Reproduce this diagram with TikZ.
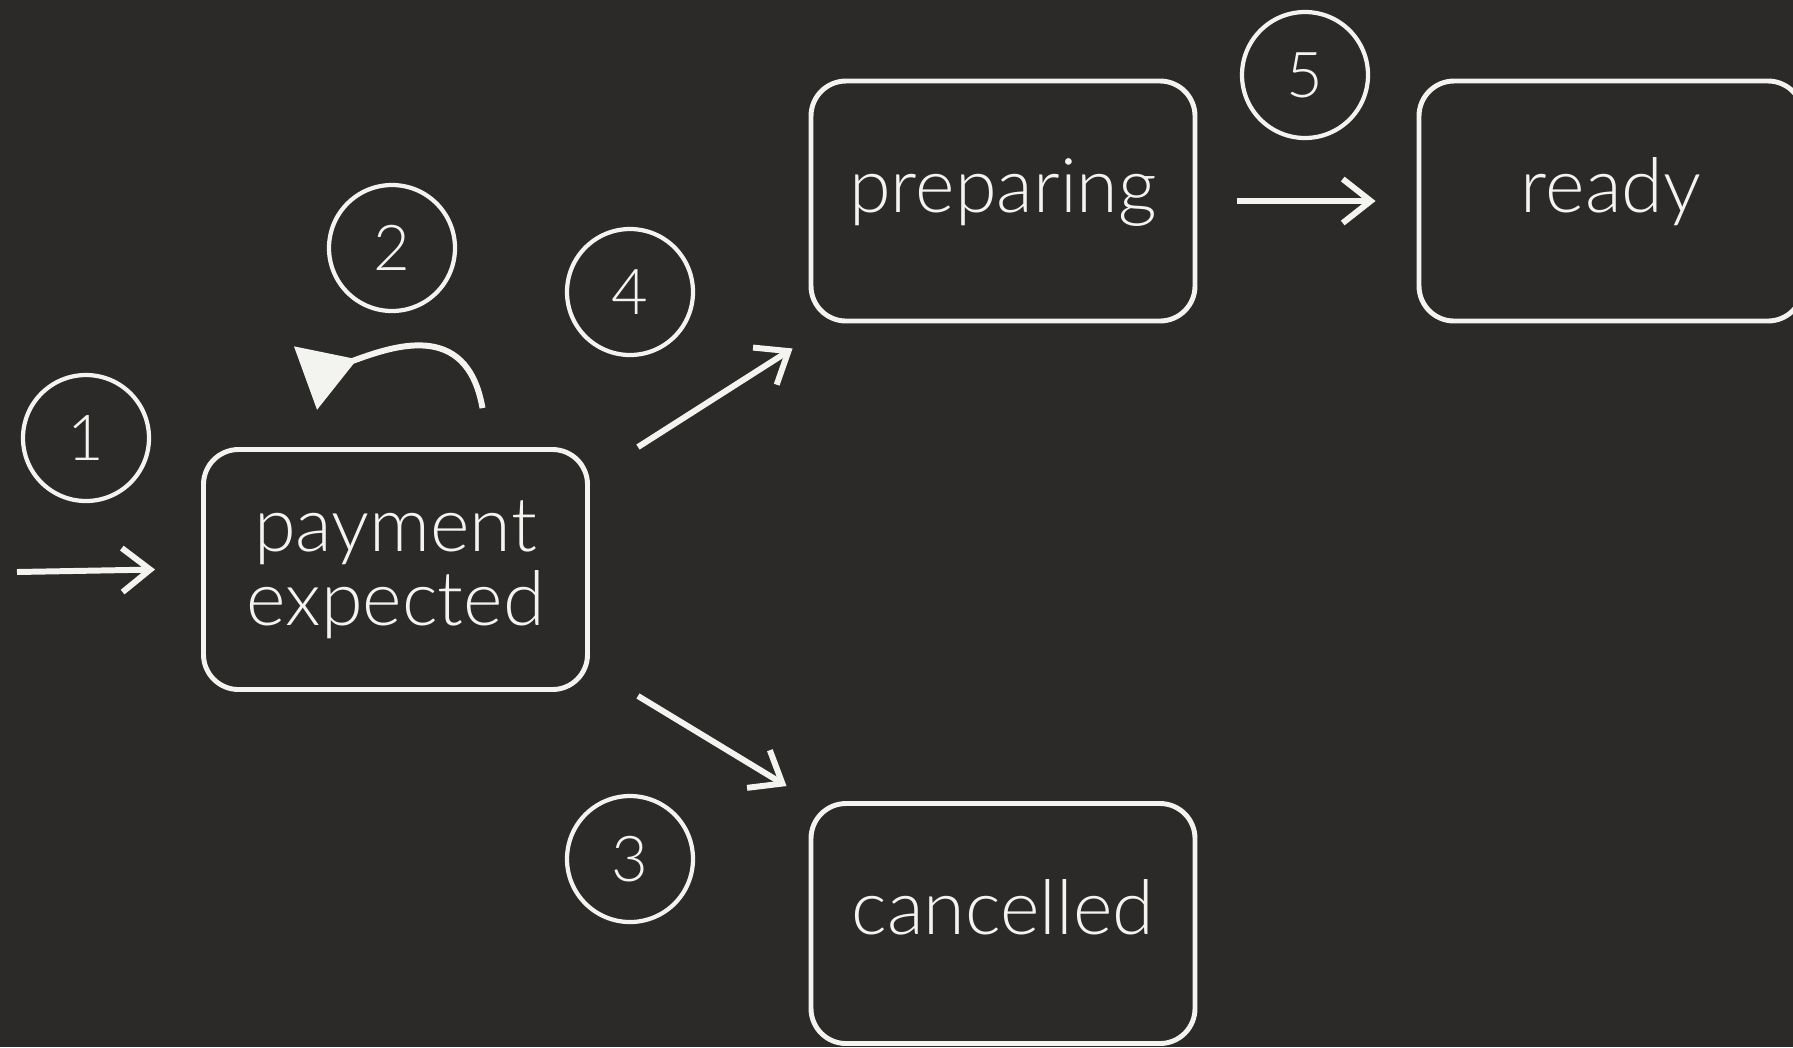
\documentclass[tikz,border=0pt]{standalone}
\usepackage{fontspec}
\setmainfont{Lato Light}
\usetikzlibrary{arrows.meta}
\definecolor{pizarra}{RGB}{43,42,41}
\definecolor{tiza}{RGB}{243,243,240}

\begin{document}
\begin{tikzpicture}[
  estado/.style={draw=tiza, line width=1.4pt, rounded corners=0.35cm,
    minimum width=3.84cm, minimum height=2.4cm, text=tiza, align=center,
    font=\fontsize{21.5}{21}\selectfont},
  unalinea/.style={text height=0.55cm, text depth=0.33cm},
  numero/.style={circle, draw=tiza, line width=1.2pt, minimum size=1.26cm,
    inner sep=0pt, text=tiza, font=\fontsize{18}{18}\selectfont},
  flecha/.style={draw=tiza, line width=1.7pt,
    -{Straight Barb[length=0.28cm, width=0.44cm]}},
  bucle/.style={draw=tiza, line width=1.7pt,
    -{Triangle[reversed, length=0.55cm, width=0.66cm]}}]
  % Fondo
  \clip (0,0) rectangle (17.93,-10.47);
  \fill[pizarra] (0,0) rectangle (17.93,-10.47);

  % Estados
  \node[estado] (pago) at (3.955,-5.695) {payment\\expected};
  \node[estado, unalinea] (prep) at (10.03,-2.01) {preparing};
  \node[estado, unalinea] (listo) at (16.11,-2.01) {ready};
  \node[estado, unalinea] (cancel) at (10.03,-9.235) {cancelled};

  % Numeros de las transiciones
  \node[numero] (n1) at (0.86,-4.38) {1};
  \node[numero] (n2) at (3.92,-2.48) {2};
  \node[numero] (n3) at (6.30,-8.59) {3};
  \node[numero] (n4) at (6.30,-2.92) {4};
  \node[numero] (n5) at (13.05,-0.75) {5};

  % Transiciones
  \coordinate (inicio) at (0.17,-5.72);
  \draw[flecha] (inicio) -- ([xshift=-0.46cm]pago.west);
  \draw[bucle] ([xshift=0.87cm, yshift=0.39cm]pago.north)
    to[out=100, in=20, looseness=1.3] ([xshift=-0.9cm, yshift=0.69cm]pago.north);
  \draw[flecha] ([xshift=0.48cm]pago.north east)
    -- ([xshift=-0.16cm, yshift=-0.25cm]prep.south west);
  \draw[flecha] ([xshift=0.48cm, yshift=-0.04cm]pago.south east)
    -- ([xshift=-0.22cm, yshift=0.15cm]cancel.north west);
  \draw[flecha, shorten <=0.4cm, shorten >=0.41cm] (prep) -- (listo);
\end{tikzpicture}
\end{document}
